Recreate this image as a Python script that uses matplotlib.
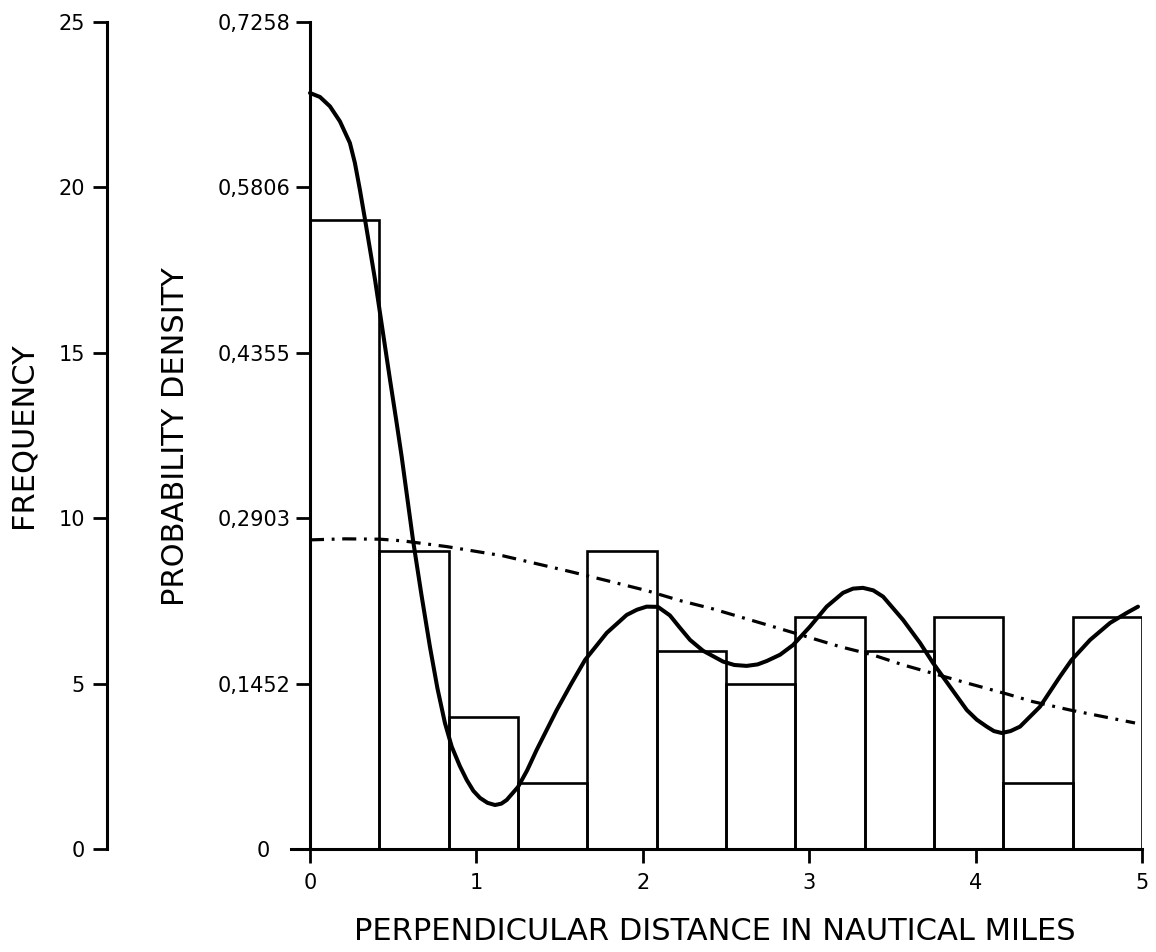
import matplotlib
matplotlib.use("Agg")
import matplotlib.pyplot as plt
import numpy as np
from matplotlib.transforms import ScaledTranslation

plt.rcParams['font.family'] = ['DejaVu Sans']

# ---------------- data ----------------
freq_ticks = [0, 5, 10, 15, 20, 25]
density_ticks = [0, 0.1452, 0.2903, 0.4355, 0.5806, 0.7258]
density_labels = ["0", "0,1452", "0,2903", "0,4355", "0,5806", "0,7258"]
x_ticks = [0, 1, 2, 3, 4, 5]

# histogram: 12 classes of equal width over 0-5 nautical miles
bin_edges = [0, 5/12, 10/12, 15/12, 20/12, 25/12, 30/12, 35/12, 40/12, 45/12, 50/12, 55/12, 5]
frequencies = [19, 9, 4, 2, 9, 6, 5, 7, 6, 7, 2, 7]

# fitted Fourier-series density (solid)
fourier_x = [0.000, 0.060, 0.120, 0.180, 0.240, 0.270, 0.300, 0.331, 0.361, 0.391,
             0.421, 0.451, 0.481, 0.521, 0.551, 0.619, 0.670, 0.721, 0.766, 0.811,
             0.852, 0.900, 0.942, 0.982, 1.022, 1.067, 1.112, 1.150, 1.182, 1.250,
             1.305, 1.362, 1.483, 1.570, 1.653, 1.783, 1.903, 1.965, 2.023, 2.091,
             2.163, 2.224, 2.284, 2.362, 2.482, 2.550, 2.624, 2.690, 2.745, 2.825,
             2.903, 3.005, 3.105, 3.203, 3.263, 3.323, 3.385, 3.444, 3.564, 3.666,
             3.744, 3.846, 3.947, 4.007, 4.067, 4.110, 4.157, 4.210, 4.267, 4.387,
             4.507, 4.577, 4.688, 4.808, 4.908, 4.976]
fourier_y = [0.6635, 0.6600, 0.6518, 0.6386, 0.6196, 0.6021, 0.5786, 0.5523, 0.5260, 0.4996,
             0.4703, 0.4411, 0.4118, 0.3738, 0.3444, 0.2713, 0.2230, 0.1774, 0.1410, 0.1106,
             0.0898, 0.0730, 0.0606, 0.0510, 0.0448, 0.0405, 0.0386, 0.0398, 0.0430, 0.0544,
             0.0690, 0.0869, 0.1220, 0.1450, 0.1659, 0.1896, 0.2054, 0.2100, 0.2127, 0.2125,
             0.2050, 0.1940, 0.1835, 0.1740, 0.1645, 0.1615, 0.1607, 0.1620, 0.1650, 0.1705,
             0.1790, 0.1952, 0.2127, 0.2248, 0.2285, 0.2292, 0.2270, 0.2215, 0.2011, 0.1809,
             0.1633, 0.1425, 0.1220, 0.1135, 0.1074, 0.1035, 0.1018, 0.1035, 0.1074, 0.1249,
             0.1513, 0.1659, 0.1835, 0.1984, 0.2072, 0.2127]

# fitted half-normal density (dash-dot)
halfnorm_x = [0.000, 0.210, 0.421, 0.559, 0.822, 1.160, 1.563, 1.783, 2.023, 2.224,
              2.422, 2.584, 2.782, 3.185, 3.383, 3.564, 3.947, 4.187, 4.345, 4.567,
              4.766, 4.958]
halfnorm_y = [0.2713, 0.2722, 0.2719, 0.2704, 0.2654, 0.2573, 0.2435, 0.2356, 0.2268, 0.2180,
              0.2107, 0.2037, 0.1952, 0.1776, 0.1703, 0.1616, 0.1457, 0.1361, 0.1293, 0.1220,
              0.1162, 0.1106]

# ---------------- figure ----------------
W, H = 1156, 952
fig = plt.figure(figsize=(W / 100, H / 100), dpi=100)

x_left_px, x_right_px = 291, 1142
y_top_px, y_bot_px = 22, 849
ax = fig.add_axes([x_left_px / W, 1 - y_bot_px / H,
                   (x_right_px - x_left_px) / W, (y_bot_px - y_top_px) / H])
ax.set_xlim(-0.114, 5)
ax.set_ylim(0, 0.7258)
ax.patch.set_alpha(0)

for s in ['top', 'right']:
    ax.spines[s].set_visible(False)
ax.spines['left'].set_position(('data', 0))
ax.spines['left'].set_linewidth(2.2)
ax.spines['bottom'].set_linewidth(2.2)

ax.set_yticks(density_ticks)
ax.set_yticklabels(density_labels)
ax.set_xticks(x_ticks)
ax.set_xticklabels([str(v) for v in x_ticks])
ax.tick_params(axis='y', direction='out', length=10, width=2.0, pad=4, labelsize=15)
ax.tick_params(axis='x', direction='out', length=10, width=2.0, pad=7, labelsize=15)
# the "0" density label sits further left in the original
lbl0 = ax.get_yticklabels()[0]
lbl0.set_transform(lbl0.get_transform() + ScaledTranslation(-0.21, 0, fig.dpi_scale_trans))

# frequency axis (separate spine to the left)
ax2 = ax.twinx()
ax2.set_ylim(0, 25)
for s in ['top', 'right', 'bottom']:
    ax2.spines[s].set_visible(False)
ax2.spines['left'].set_visible(True)
ax2.spines['left'].set_position(('axes', (107 - x_left_px) / (x_right_px - x_left_px)))
ax2.spines['left'].set_linewidth(2.2)
ax2.yaxis.tick_left()
ax2.set_yticks(freq_ticks)
ax2.set_yticklabels([str(v) for v in freq_ticks])
ax2.tick_params(axis='y', direction='out', length=10, width=2.0, pad=6, labelsize=15)

# histogram bars (frequency scale)
lefts = bin_edges[:-1]
widths = [bin_edges[i + 1] - bin_edges[i] for i in range(len(lefts))]
ax2.bar(lefts, frequencies, width=widths, align='edge', fill=False,
        edgecolor='black', linewidth=1.9, zorder=2)

# curves (density scale)
ax.plot(fourier_x, fourier_y, color='black', linewidth=2.9, zorder=5,
        solid_capstyle='round', solid_joinstyle='round')
ax.plot(halfnorm_x, halfnorm_y, color='black', linewidth=2.3, zorder=5,
        linestyle=(0, (4.4, 2.4, 0.9, 2.4)))

# axis titles
fig.text(23 / W, 1 - 435 / H, "FREQUENCY", rotation=90, ha='center', va='center',
         fontsize=22)
fig.text(175 / W, 1 - 437 / H, "PROBABILITY DENSITY", rotation=90, ha='center',
         va='center', fontsize=22)
fig.text(715 / W, 1 - 932 / H, "PERPENDICULAR DISTANCE IN NAUTICAL MILES",
         ha='center', va='center', fontsize=22)

fig.savefig("out.png", dpi=100)
